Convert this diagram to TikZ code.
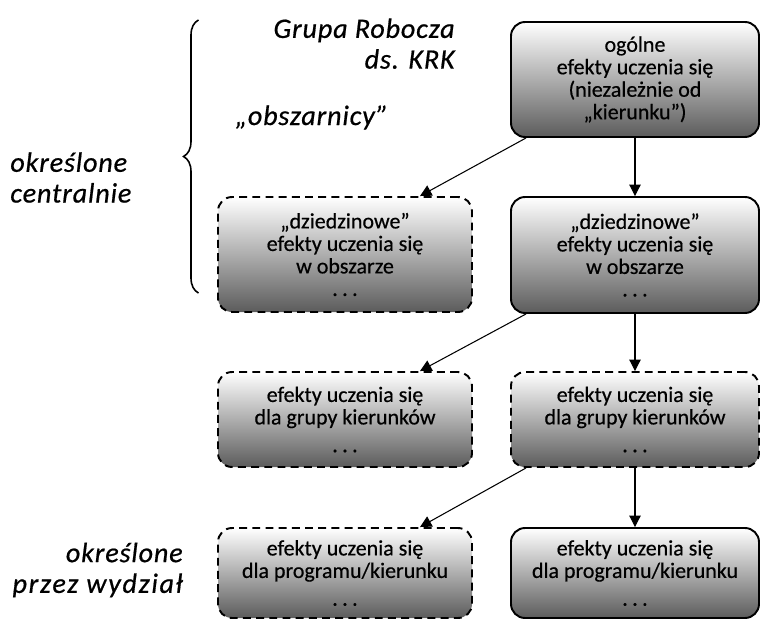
\documentclass[tikz,border=0pt]{standalone}
\usepackage{fontspec}
\setmainfont{Carlito}
\newfontfamily\boxfont{Carlito}[FakeBold=0.5]
\newfontfamily\opisfont{Carlito}[FakeBold=0.6, LetterSpace=3]
\newcommand{\kropki}{.\kern2.5pt.\kern2.5pt.}
\usetikzlibrary{arrows.meta, decorations.pathreplacing}

\begin{document}
\begin{tikzpicture}[
    box/.style={draw=black, line width=1.1pt, rounded corners=8pt, top color=white, bottom color=black!64, minimum width=4.96cm, align=center, font=\boxfont\fontsize{12.5}{12.8}\selectfont, inner sep=2pt},
    dashedbox/.style={box, dash pattern=on 4.5pt off 3pt},
    arrow/.style={line width=0.6pt, -{Triangle[width=6.5pt, length=6.5pt]}, draw=black},
    opis/.style={font=\opisfont\itshape\fontsize{16}{17.5}\selectfont, inner sep=0pt}
]
    \useasboundingbox (0,0) rectangle (15.24,-12.44);

    % opisy po lewej
    \node[opis, anchor=north east, align=right] (grupa) at (9.10,-0.36) {Grupa Robocza\\ds. KRK};
    \node[opis, anchor=base west] (obszarnicy) at (4.70,-2.50) {„obszarnicy”};
    \node[opis, anchor=west, align=left] (centralnie) at (0.20,-3.55) {określone\\centralnie};
    \node[opis, anchor=east, align=right] (wydzial) at (3.66,-11.40) {określone\\{\addfontfeature{LetterSpace=6}przez wydział}};
    \draw[decorate, decoration={brace, amplitude=0.3cm}, line width=0.9pt] (3.97,-5.86) -- (3.97,-0.40);

    % prawa kolumna
    \node[box, minimum height=2.30cm] (ogolne) at (12.70,-1.59) {ogólne\\efekty uczenia się\\(niezależnie od\\„kierunku”)};
    \node[box, minimum height=2.32cm] (obszarR) at (12.70,-5.10) {„dziedzinowe”\\efekty uczenia się\\w obszarze\\\kropki};
    \node[dashedbox, minimum height=1.90cm] (grupaR) at (12.70,-8.39) {efekty uczenia się\\dla grupy kierunków\\[3pt]\kropki};
    \node[box, minimum height=1.80cm] (programR) at (12.70,-11.46) {efekty uczenia się\\dla programu/kierunku\\[3pt]\kropki};

    % lewa kolumna
    \node[dashedbox, minimum width=5.08cm, minimum height=2.30cm] (obszarL) at (6.90,-5.09) {„dziedzinowe”\\efekty uczenia się\\w obszarze\\\kropki};
    \node[dashedbox, minimum width=5.08cm, minimum height=1.90cm] (grupaL) at (6.90,-8.39) {efekty uczenia się\\dla grupy kierunków\\[3pt]\kropki};
    \node[dashedbox, minimum width=5.08cm, minimum height=1.80cm] (programL) at (6.90,-11.46) {efekty uczenia się\\dla programu/kierunku\\[3pt]\kropki};

    \draw[arrow] (ogolne) -- (obszarR);
    \draw[arrow] (obszarR) -- (grupaR);
    \draw[arrow] (grupaR) -- (programR);
    \draw[arrow] ([xshift=0.32cm]ogolne.south west) -- ([xshift=1.5cm]obszarL.north);
    \draw[arrow] ([xshift=0.32cm]obszarR.south west) -- ([xshift=1.5cm]grupaL.north);
    \draw[arrow] ([xshift=0.32cm]grupaR.south west) -- ([xshift=1.5cm]programL.north);
\end{tikzpicture}
\end{document}
